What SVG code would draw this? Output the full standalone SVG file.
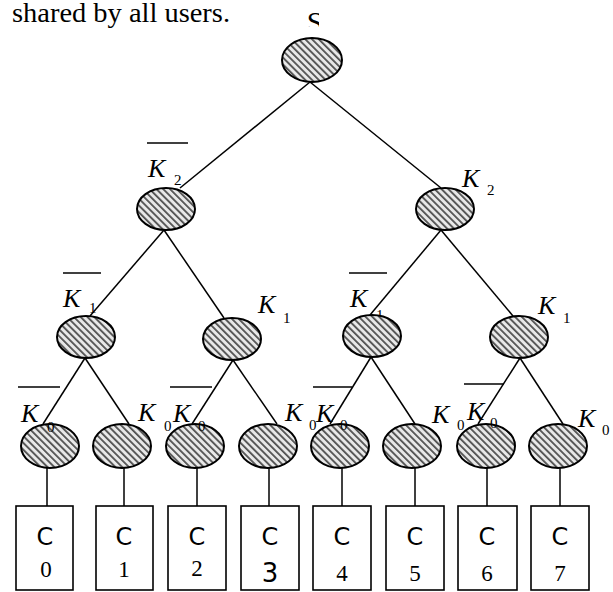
<svg xmlns="http://www.w3.org/2000/svg" width="613" height="592" viewBox="0 0 613 592">
<defs>
<pattern id="hatch" width="4.8" height="4.8" patternUnits="userSpaceOnUse" patternTransform="rotate(-45)">
<rect width="4.8" height="4.8" fill="#e8e8e8"/>
<rect width="1.8" height="4.8" fill="#505050"/>
</pattern>
<clipPath id="sclip"><rect x="300" y="10" width="19" height="17"/></clipPath>
<style>
.n{fill:url(#hatch);stroke:#000;stroke-width:2}
.e{stroke:#000;stroke-width:1.5;fill:none}
.ov{stroke:#000;stroke-width:1.5}
.box{fill:#fff;stroke:#000;stroke-width:1.6}
.k{font-family:"Liberation Serif",serif;font-style:italic;font-size:26px;fill:#000}
.sub{font-family:"Liberation Serif",serif;font-size:15px;fill:#000}
.c{font-family:"DejaVu Sans",sans-serif;font-size:24px;fill:#000;text-anchor:middle}
.d{font-family:"Liberation Serif",serif;font-size:23px;fill:#000;text-anchor:middle}
.d3{font-family:"DejaVu Sans",sans-serif;font-size:26px;fill:#000;text-anchor:middle}
.t{font-family:"Liberation Serif",serif;font-size:27px;fill:#000}
</style>
</defs>
<rect width="613" height="592" fill="#fff"/>
<text class="t" x="12" y="22" textLength="218" lengthAdjust="spacingAndGlyphs">shared by all users.</text>
<text x="315" y="32" clip-path="url(#sclip)" style="font-family:'Liberation Serif',serif;font-size:30px;text-anchor:middle">S</text>

<g id="connectors">
<line class="e" x1="310" y1="82" x2="180" y2="188"/>
<line class="e" x1="310" y1="82" x2="441" y2="188"/>
<line class="e" x1="164" y1="230" x2="90" y2="316"/>
<line class="e" x1="164" y1="230" x2="224" y2="318"/>
<line class="e" x1="441" y1="230" x2="370" y2="315"/>
<line class="e" x1="441" y1="230" x2="513" y2="316"/>
<line class="e" x1="85" y1="358" x2="43" y2="424"/>
<line class="e" x1="85" y1="358" x2="129" y2="424"/>
<line class="e" x1="233" y1="360" x2="192" y2="424"/>
<line class="e" x1="233" y1="360" x2="277" y2="424"/>
<line class="e" x1="371" y1="357" x2="330" y2="424"/>
<line class="e" x1="371" y1="357" x2="415" y2="424"/>
<line class="e" x1="520" y1="358" x2="478" y2="424"/>
<line class="e" x1="520" y1="358" x2="563" y2="424"/>
<line class="e" x1="47" y1="468" x2="47" y2="506"/>
<line class="e" x1="124" y1="468" x2="124" y2="506"/>
<line class="e" x1="197" y1="468" x2="197" y2="506"/>
<line class="e" x1="269" y1="468" x2="269" y2="506"/>
<line class="e" x1="342" y1="468" x2="342" y2="506"/>
<line class="e" x1="415" y1="468" x2="415" y2="506"/>
<line class="e" x1="487" y1="468" x2="487" y2="506"/>
<line class="e" x1="560" y1="468" x2="560" y2="506"/>
</g>

<text class="sub" x="376" y="320">1</text>

<g id="root"><ellipse class="n" cx="312" cy="60" rx="30" ry="22"/></g>
<g id="n2a"><ellipse class="n" cx="166" cy="209" rx="29" ry="21"/></g>
<g id="n2b"><ellipse class="n" cx="445" cy="209" rx="29" ry="21"/></g>
<g id="n3a"><ellipse class="n" cx="86" cy="337" rx="29" ry="21"/></g>
<g id="n3b"><ellipse class="n" cx="232" cy="339" rx="29" ry="21"/></g>
<g id="n3c"><ellipse class="n" cx="372" cy="336" rx="29" ry="21"/></g>
<g id="n3d"><ellipse class="n" cx="519" cy="337" rx="29" ry="21"/></g>
<g id="n4a"><ellipse class="n" cx="50" cy="446" rx="29" ry="22"/></g>
<g id="n4b"><ellipse class="n" cx="122" cy="446" rx="29" ry="22"/></g>
<g id="n4c"><ellipse class="n" cx="195" cy="446" rx="29" ry="22"/></g>
<g id="n4d"><ellipse class="n" cx="268" cy="446" rx="29" ry="22"/></g>
<g id="n4e"><ellipse class="n" cx="340" cy="446" rx="29" ry="22"/></g>
<g id="n4f"><ellipse class="n" cx="412" cy="446" rx="29" ry="22"/></g>
<g id="n4g"><ellipse class="n" cx="486" cy="446" rx="29" ry="22"/></g>
<g id="n4h"><ellipse class="n" cx="558" cy="446" rx="29" ry="22"/></g>

<g id="labels">
<line class="ov" x1="147" y1="143" x2="188" y2="143"/>
<text class="k" x="148" y="177">K</text><text class="sub" x="174" y="185">2</text>
<text class="k" x="462" y="187">K</text><text class="sub" x="487" y="195">2</text>
<line class="ov" x1="63" y1="273" x2="101" y2="273"/>
<text class="k" x="63" y="307">K</text><text class="sub" x="89" y="313">1</text>
<text class="k" x="258" y="313">K</text><text class="sub" x="283" y="323">1</text>
<line class="ov" x1="349" y1="273" x2="387" y2="273"/>
<text class="k" x="350" y="307">K</text>
<text class="k" x="538" y="314">K</text><text class="sub" x="563" y="323">1</text>
<line class="ov" x1="18" y1="387" x2="60" y2="387"/>
<text class="k" x="21" y="422">K</text><text class="sub" x="47" y="432">0</text>
<text class="k" x="138" y="421">K</text><text class="sub" x="164" y="431">0</text>
<line class="ov" x1="170" y1="387" x2="212" y2="387"/>
<text class="k" x="173" y="422">K</text><text class="sub" x="198" y="431">0</text>
<text class="k" x="285" y="421">K</text><text class="sub" x="309" y="430">0</text>
<line class="ov" x1="313" y1="387" x2="352" y2="387"/>
<text class="k" x="316" y="422">K</text><text class="sub" x="340" y="430">0</text>
<text class="k" x="432" y="423">K</text><text class="sub" x="457" y="430">0</text>
<line class="ov" x1="464" y1="384" x2="504" y2="384"/>
<text class="k" x="467" y="420">K</text><text class="sub" x="490" y="428">0</text>
<text class="k" x="578" y="427">K</text><text class="sub" x="602" y="435">0</text>
</g>

<g id="c0"><rect class="box" x="16" y="506" width="57" height="84"/><text class="c" x="45" y="545">C</text><text class="d" x="46" y="577">0</text></g>
<g id="c1"><rect class="box" x="96" y="506" width="57" height="84"/><text class="c" x="124" y="545">C</text><text class="d" x="124" y="577">1</text></g>
<g id="c2"><rect class="box" x="168" y="506" width="58" height="84"/><text class="c" x="197" y="545">C</text><text class="d" x="197" y="576">2</text></g>
<g id="c3"><rect class="box" x="241" y="506" width="58" height="84"/><text class="c" x="270" y="545">C</text><text class="d3" x="270" y="582">3</text></g>
<g id="c4"><rect class="box" x="313" y="506" width="58" height="84"/><text class="c" x="342" y="545">C</text><text class="d" x="342" y="581">4</text></g>
<g id="c5"><rect class="box" x="386" y="506" width="58" height="84"/><text class="c" x="415" y="545">C</text><text class="d" x="415" y="581">5</text></g>
<g id="c6"><rect class="box" x="458" y="506" width="59" height="84"/><text class="c" x="487" y="545">C</text><text class="d" x="487" y="581">6</text></g>
<g id="c7"><rect class="box" x="531" y="506" width="58" height="84"/><text class="c" x="560" y="545">C</text><text class="d" x="560" y="581">7</text></g>
</svg>
